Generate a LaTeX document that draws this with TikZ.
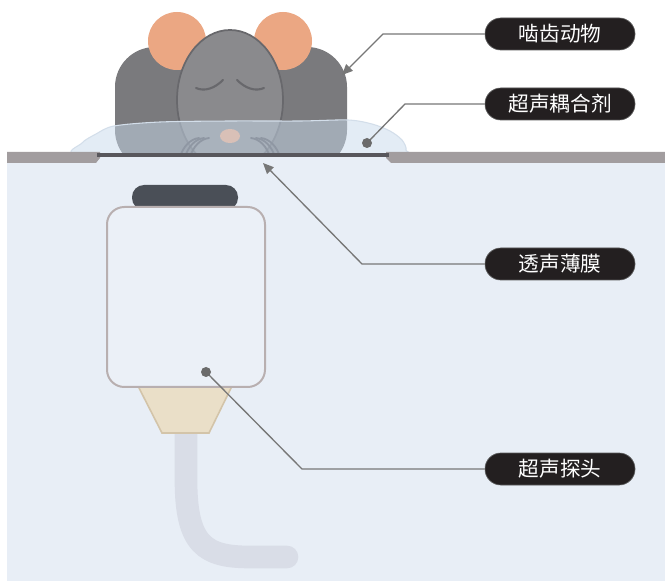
\documentclass[tikz,border=0pt]{standalone}
\usepackage{fontspec}
\newfontfamily\cjk{Noto Sans CJK SC}
\usetikzlibrary{arrows.meta}
\definecolor{tankbg}{HTML}{E8EEF6}
\definecolor{plate}{HTML}{A29D9F}
\definecolor{film}{HTML}{58575C}
\definecolor{bodygray}{HTML}{7A7A7D}
\definecolor{headgray}{HTML}{8A8A8D}
\definecolor{mouseline}{HTML}{68686C}
\definecolor{pawline}{HTML}{55555A}
\definecolor{earpink}{HTML}{EBA783}
\definecolor{gelblue}{HTML}{C9DAEC}
\definecolor{geledge}{HTML}{D3DEEA}
\definecolor{probecap}{HTML}{4A4F57}
\definecolor{probebody}{HTML}{EBF0F7}
\definecolor{probeedge}{HTML}{B8AFB0}
\definecolor{lensfill}{HTML}{EADFC8}
\definecolor{lensedge}{HTML}{D3C4A9}
\definecolor{cable}{HTML}{D9DDE7}
\definecolor{pillfill}{HTML}{231F20}
\definecolor{leader}{HTML}{777777}
\begin{document}
\begin{tikzpicture}[x=0.75pt,y=-0.75pt,
  pill/.style={fill=pillfill, draw=black!65, line width=0.5pt,
    rounded corners=11.9pt, minimum width=112.5pt, minimum height=24pt,
    inner sep=0pt, font=\cjk\fontsize{15.5}{15.5}\selectfont, text=white},
  leaderline/.style={draw=leader, line width=1pt},
  arrowline/.style={leaderline, -{Triangle[length=8pt,width=7pt]}},
  dotend/.style={fill=leader!90!black}]
\useasboundingbox (0,0) rectangle (665,581);
\fill[white] (0,0) rectangle (665,581);
% water tank below the plate
\fill[tankbg] (7,157) rectangle (665,581);

% probe cable
\draw[cable, line width=17pt, line cap=round]
  (186,430) -- (186,480) .. controls (186,545) and (205,557) .. (250,557) -- (287,557);
% acoustic lens
\filldraw[fill=lensfill, draw=lensedge, line width=1.2pt]
  (138,386) -- (232,386) -- (209,433) -- (162,433) -- cycle;
% probe cap
\fill[probecap, rounded corners=9pt] (132,210) -- (132,185) -- (238,185) -- (238,210) -- cycle;
% probe housing
\filldraw[fill=probebody, draw=probeedge, line width=1.5pt, rounded corners=13pt]
  (107,207) rectangle (265,387);

% mouse
\begin{scope}
\clip (0,0) rectangle (665,155);
\fill[bodygray, rounded corners=30pt] (115,170) -- (115,47) -- (347,47) -- (347,170) -- cycle;
\fill[earpink] (177,41) circle[radius=29];
\fill[earpink] (283,41) circle[radius=29];
\filldraw[fill=headgray, draw=mouseline, line width=1.3pt] (230,100) ellipse[x radius=53, y radius=70];
\fill[earpink] (230,136) ellipse[x radius=10, y radius=7];
\draw[mouseline, line width=1.6pt, line cap=round]
  (196,88) .. controls (205,92) and (215,88) .. (223,80);
\draw[mouseline, line width=1.6pt, line cap=round]
  (237,80) .. controls (245,88) and (255,92) .. (264,88);
% paws
\foreach \d in {0,5,10}{
  \draw[pawline, line width=1.4pt, line cap=round]
    (180+\d,157) .. controls (183+\d,147) and (190+\d,139) .. (199+\d,138);
  \draw[pawline, line width=1.4pt, line cap=round]
    (280-\d,157) .. controls (277-\d,147) and (270-\d,139) .. (261-\d,138);
}
\end{scope}

% coupling gel
\filldraw[fill=gelblue, fill opacity=0.5, draw=geledge, line width=0.8pt]
  plot[smooth cycle] coordinates {(80,155) (82,143) (96,134) (114,126) (160,122) (230,121)
    (300,121) (348,120) (372,124) (390,131) (402,140) (406,150) (396,155) (230,156)};

% plate with the film window
\fill[plate] (7,152) -- (100,152) -- (100,158) -- (96,163) -- (7,163) -- cycle;
\fill[plate] (386,152) -- (665,152) -- (665,163) -- (391,163) -- (386,158) -- cycle;
\draw[film, line width=2.3pt] (97,155) -- (389,155);

% labels
\node[pill] (l1) at (560,34) {啮齿动物};
\node[pill] (l2) at (560,104) {超声耦合剂};
\node[pill] (l3) at (560,264) {透声薄膜};
\node[pill] (l4) at (560,469) {超声探头};

% leader lines
\coordinate (b1) at (383,34);
\coordinate (mousetip) at (342,75);
\coordinate (b2) at (405,104);
\coordinate (geldot) at (367,143);
\coordinate (b3) at (362,264);
\coordinate (filmtip) at (263,163);
\coordinate (b4) at (302,469);
\coordinate (probedot) at (206,372);

\draw[arrowline] (l1.west) -- (b1) -- (mousetip);
\draw[leaderline] (l2.west) -- (b2) -- (geldot);
\fill[dotend] (geldot) circle[radius=5];
\draw[arrowline] (l3.west) -- (b3) -- (filmtip);
\draw[leaderline] (l4.west) -- (b4) -- (probedot);
\fill[dotend] (probedot) circle[radius=5];
\end{tikzpicture}
\end{document}
